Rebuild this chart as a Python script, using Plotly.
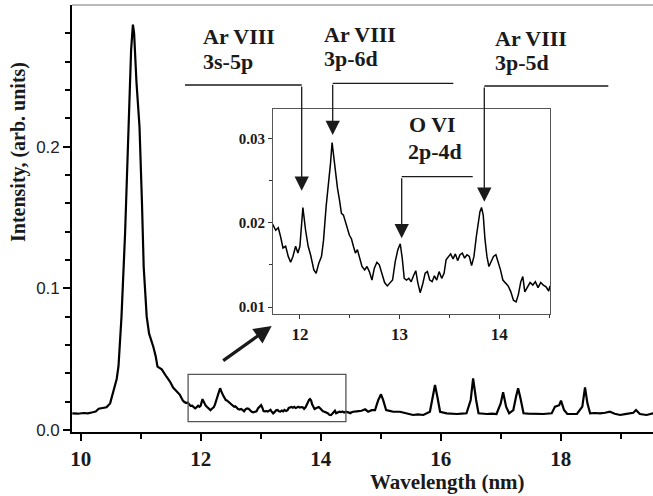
import plotly.graph_objects as go

W, H = 653, 496

# ---------------- data ----------------
wl_a = [9.86, 9.95, 10.05, 10.12, 10.20, 10.25, 10.30, 10.35, 10.43, 10.49, 10.54, 10.60,
        10.63, 10.68, 10.74, 10.79, 10.84, 10.87, 10.89, 10.93, 10.98, 11.02, 11.05, 11.10,
        11.14, 11.21, 11.25, 11.28, 11.35, 11.43, 11.49, 11.54, 11.60, 11.65, 11.70]
in_a = [0.0118, 0.0115, 0.0120, 0.0118, 0.0125, 0.0130, 0.0150, 0.0152, 0.0160, 0.0188, 0.0262, 0.0360,
        0.0450, 0.0800, 0.1390, 0.2090, 0.2680, 0.2860, 0.2800, 0.2450, 0.2140, 0.1620, 0.1150, 0.0800,
        0.0680, 0.0588, 0.0520, 0.0447, 0.0428, 0.0376, 0.0340, 0.0300, 0.0270, 0.0250, 0.0210]

wl_b = [11.723, 11.757, 11.783, 11.807, 11.830, 11.857, 11.883, 11.907, 11.930, 11.957, 11.980, 12.000,
        12.030, 12.057, 12.083, 12.107, 12.140, 12.163, 12.190, 12.217, 12.237, 12.263, 12.290, 12.307,
        12.323, 12.340, 12.357, 12.377, 12.397, 12.417, 12.437, 12.457, 12.477, 12.497, 12.517, 12.537,
        12.557, 12.577, 12.597, 12.623, 12.650, 12.673, 12.697, 12.723, 12.747, 12.773, 12.797, 12.823,
        12.850, 12.877, 12.903, 12.930, 12.957, 12.983, 13.007, 13.027, 13.047, 13.070, 13.093, 13.117,
        13.140, 13.163, 13.183, 13.207, 13.230, 13.257, 13.280, 13.303, 13.327, 13.350, 13.373, 13.397,
        13.423, 13.447, 13.467, 13.490, 13.513, 13.537, 13.560, 13.583, 13.607, 13.630, 13.653, 13.677,
        13.700, 13.723, 13.747, 13.770, 13.790, 13.807, 13.823, 13.840, 13.857, 13.877, 13.897, 13.920,
        13.943, 13.967, 13.990, 14.013, 14.037, 14.063, 14.090, 14.117, 14.143, 14.170, 14.193, 14.217,
        14.237, 14.257, 14.283, 14.310, 14.337, 14.363, 14.390, 14.417, 14.443, 14.470, 14.497, 14.507]
in_b = [0.0199, 0.0191, 0.0194, 0.0183, 0.0170, 0.0172, 0.0160, 0.0153, 0.0160, 0.0172, 0.0164, 0.0172,
        0.0218, 0.0191, 0.0172, 0.0162, 0.0144, 0.0140, 0.0152, 0.0160, 0.0179, 0.0219, 0.0247, 0.0270,
        0.0295, 0.0276, 0.0255, 0.0241, 0.0227, 0.0211, 0.0209, 0.0202, 0.0193, 0.0185, 0.0181, 0.0172,
        0.0164, 0.0168, 0.0159, 0.0148, 0.0144, 0.0148, 0.0142, 0.0132, 0.0146, 0.0153, 0.0150, 0.0138,
        0.0129, 0.0125, 0.0129, 0.0132, 0.0154, 0.0168, 0.0175, 0.0158, 0.0134, 0.0132, 0.0134, 0.0130,
        0.0137, 0.0143, 0.0129, 0.0117, 0.0126, 0.0140, 0.0142, 0.0132, 0.0130, 0.0137, 0.0132, 0.0142,
        0.0134, 0.0140, 0.0156, 0.0160, 0.0163, 0.0157, 0.0163, 0.0155, 0.0162, 0.0164, 0.0158, 0.0162,
        0.0160, 0.0149, 0.0160, 0.0183, 0.0201, 0.0213, 0.0218, 0.0209, 0.0181, 0.0160, 0.0148, 0.0154,
        0.0160, 0.0162, 0.0154, 0.0144, 0.0132, 0.0129, 0.0125, 0.0118, 0.0108, 0.0106, 0.0115, 0.0130,
        0.0136, 0.0118, 0.0124, 0.0129, 0.0126, 0.0130, 0.0123, 0.0129, 0.0126, 0.0124, 0.0119, 0.0124]

wl_c = [14.54, 14.60, 14.68, 14.74, 14.79, 14.85, 14.905, 14.96, 15.005, 15.04, 15.09, 15.15,
        15.21, 15.32, 15.43, 15.54, 15.62, 15.71, 15.82, 15.866, 15.905, 15.944, 15.99, 16.10,
        16.20, 16.27, 16.35, 16.43, 16.50, 16.54, 16.59, 16.63, 16.77, 16.85, 16.93, 17.00,
        17.04, 17.09, 17.14, 17.21, 17.255, 17.29, 17.33, 17.38, 17.46, 17.545, 17.63, 17.71,
        17.85, 17.905, 17.94, 17.975, 18.005, 18.055, 18.11, 18.20, 18.27, 18.36, 18.405, 18.445,
        18.49, 18.57, 18.655, 18.74, 18.82, 18.90, 18.99, 19.07, 19.155, 19.21, 19.255, 19.32,
        19.43, 19.54]
in_c = [0.0129, 0.0132, 0.0136, 0.0146, 0.0129, 0.0140, 0.0140, 0.0212, 0.0252, 0.0212, 0.0141, 0.0135,
        0.0129, 0.0129, 0.0118, 0.0106, 0.0110, 0.0106, 0.0129, 0.0235, 0.0318, 0.0235, 0.0129, 0.0118,
        0.0115, 0.0113, 0.0116, 0.0118, 0.0212, 0.0365, 0.0212, 0.0118, 0.0113, 0.0116, 0.0113, 0.0188,
        0.0266, 0.0165, 0.0118, 0.0141, 0.0235, 0.0294, 0.0223, 0.0118, 0.0115, 0.0113, 0.0116, 0.0113,
        0.0118, 0.0165, 0.0170, 0.0175, 0.0207, 0.0141, 0.0113, 0.0115, 0.0113, 0.0165, 0.0301, 0.0188,
        0.0118, 0.0120, 0.0118, 0.0122, 0.0129, 0.0115, 0.0106, 0.0112, 0.0118, 0.0122, 0.0141, 0.0113,
        0.0106, 0.0118]

wavelength = wl_a + wl_b + wl_c
intensity = in_a + in_b + in_c

main_xticks = [10, 12, 14, 16, 18]
main_yticks = [0.0, 0.1, 0.2]
main_yticktext = ["0.0", "0.1", "0.2"]
inset_xticks = [12, 13, 14]
inset_yticks = [0.01, 0.02, 0.03]
inset_yticktext = ["0.01", "0.02", "0.03"]

zoom_box_x = [11.79, 14.42]
zoom_box_y = [0.0059, 0.0393]

# ---------------- helpers ----------------
def PX(x):
    return x / W

def PY(y):
    return 1 - y / H

SERIF = "Liberation Serif"
SANS = "Liberation Sans"
INK = "#1a1a1a"

fig = go.Figure()
fig.add_trace(go.Scatter(x=wavelength, y=intensity, mode="lines",
                         line=dict(color="black", width=2.2), xaxis="x", yaxis="y",
                         hoverinfo="skip", showlegend=False))
fig.add_trace(go.Scatter(x=wavelength, y=intensity, mode="lines",
                         line=dict(color="black", width=1.5), xaxis="x2", yaxis="y2",
                         hoverinfo="skip", showlegend=False))

fig.update_layout(
    width=W, height=H,
    margin=dict(l=0, r=0, t=0, b=0, autoexpand=False),
    paper_bgcolor="white", plot_bgcolor="white",
    showlegend=False,
    xaxis=dict(domain=[PX(72), 1.0], range=[9.855, 19.538], anchor="y", automargin=False,
               tickvals=main_xticks, ticks="outside", ticklen=7, tickwidth=1.5,
               tickcolor="black", showline=True, linecolor="black", linewidth=1.6,
               showgrid=False, zeroline=False,
               tickfont=dict(family=SERIF, size=21, color=INK, weight="bold"),
               minor=dict(dtick=1, tick0=10, ticks="outside", ticklen=5, tickwidth=1.5,
                          tickcolor="black", showgrid=False)),
    yaxis=dict(domain=[PY(432), PY(5)], range=[-0.0014, 0.2999], anchor="x", automargin=False,
               tickvals=main_yticks, ticktext=main_yticktext, ticks="outside",
               ticklen=7, tickwidth=1.5, tickcolor="black", showline=True,
               linecolor="black", linewidth=1.6, showgrid=False, zeroline=False,
               tickfont=dict(family=SANS, size=17, color="#222"),
               minor=dict(dtick=0.02, tick0=0, ticks="outside", ticklen=5, tickwidth=1.5,
                          tickcolor="black", showgrid=False)),
    xaxis2=dict(domain=[PX(273), PX(550)], range=[11.73, 14.51], anchor="y2", automargin=False,
                tickvals=inset_xticks, ticks="outside", ticklen=4, tickwidth=1,
                tickcolor="#333", showline=True, linecolor="#555", linewidth=1.2,
                mirror=True, showgrid=False, zeroline=False,
                tickfont=dict(family=SERIF, size=17, color=INK, weight="bold"),
                minor=dict(dtick=0.5, tick0=12, ticks="outside", ticklen=3, tickwidth=1,
                           tickcolor="#333", showgrid=False)),
    yaxis2=dict(domain=[PY(314), PY(109)], range=[0.00917, 0.03348], anchor="x2", automargin=False,
                tickvals=inset_yticks, ticktext=inset_yticktext, ticks="outside",
                ticklen=4, tickwidth=1, tickcolor="#333", showline=True,
                linecolor="#555", linewidth=1.2, mirror=True, showgrid=False,
                zeroline=False,
                tickfont=dict(family=SERIF, size=15, color=INK, weight="bold"),
                minor=dict(dtick=0.005, tick0=0.01, ticks="outside", ticklen=3,
                           tickwidth=1, tickcolor="#333", showgrid=False)),
)

shapes = []
# top frame line of main plot
shapes.append(dict(type="line", xref="paper", yref="paper", x0=PX(72), x1=1.0,
                   y0=PY(5), y1=PY(5), line=dict(color="#777", width=1.2)))
# zoom box on main plot
shapes.append(dict(type="rect", xref="x", yref="y", x0=zoom_box_x[0], x1=zoom_box_x[1],
                   y0=zoom_box_y[0], y1=zoom_box_y[1], line=dict(color="#555", width=1.3)))
# horizontal leader lines
for (xa, xb, yy) in [(185, 301.7, 85), (332.7, 453.3, 83.3), (484.3, 608.3, 86), (401.7, 472.7, 176.7)]:
    shapes.append(dict(type="line", xref="paper", yref="paper", x0=PX(xa), x1=PX(xb),
                       y0=PY(yy), y1=PY(yy), line=dict(color=INK, width=1.3)))
fig.update_layout(shapes=shapes)

ann = []
# vertical leader arrows
for (tx, ty, sy) in [(301.7, 190.7, 85), (332.7, 135, 83.3), (484.3, 201.7, 86), (401.7, 238.3, 176.7)]:
    ann.append(dict(x=PX(tx), y=PY(ty), xref="paper", yref="paper", ax=0, ay=sy - ty,
                    axref="pixel", ayref="pixel", text="", showarrow=True,
                    arrowhead=2, arrowsize=2.2, arrowwidth=1.3, arrowcolor=INK))
# big arrow from zoom box to inset
ann.append(dict(x=PX(271.7), y=PY(326), xref="paper", yref="paper", ax=-50, ay=35.7,
                text="", showarrow=True, arrowhead=2, arrowsize=1.1, arrowwidth=3.2,
                arrowcolor=INK))

labels = [("Ar VIII", 200.7, 36), ("3s-5p", 200.7, 61),
          ("Ar VIII", 321.7, 34), ("3p-6d", 321.7, 59),
          ("Ar VIII", 492.7, 38), ("3p-5d", 492.7, 62),
          ("O VI", 406.7, 125), ("2p-4d", 405.7, 151)]
for (t, x, y) in labels:
    ann.append(dict(x=PX(x), y=PY(y), xref="paper", yref="paper", text=t, showarrow=False,
                    xanchor="left", yanchor="middle",
                    font=dict(family=SERIF, size=22, color=INK, weight="bold")))

# axis titles
ann.append(dict(x=PX(447), y=PY(482), xref="paper", yref="paper", text="Wavelength (nm)",
                showarrow=False, xanchor="center", yanchor="middle",
                font=dict(family=SERIF, size=21, color=INK, weight="bold")))
ann.append(dict(x=PX(19), y=PY(152), xref="paper", yref="paper",
                text="Intensity, (arb. units)", showarrow=False, textangle=-90,
                xanchor="center", yanchor="middle",
                font=dict(family=SERIF, size=20, color=INK, weight="bold")))
fig.update_layout(annotations=ann)

fig.write_html("out.html")
